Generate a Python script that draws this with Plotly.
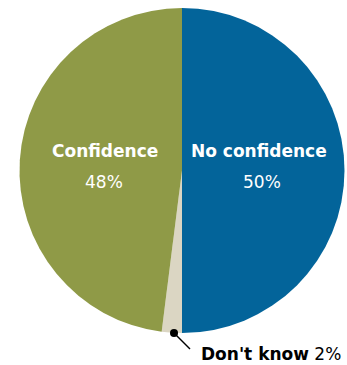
import plotly.graph_objects as go

labels = ["No confidence", "Don't know", "Confidence"]
values = [50, 2, 48]
colors = ["#03649a", "#dbd6c3", "#8f9a47"]

W, H = 347, 365
def px(x): return x / W
def py(y): return 1 - y / H

fig = go.Figure(go.Pie(
    labels=labels, values=values, sort=False, direction="clockwise", rotation=0,
    marker=dict(colors=colors, line=dict(width=0)),
    textinfo="none", hoverinfo="label+percent", showlegend=False,
    domain=dict(x=[px(19), px(345)], y=[py(333), py(8)]),
))

font = "DejaVu Sans, sans-serif"
fs = 17
ann = []
def add(x, y, text, color="white", xanchor="center"):
    ann.append(dict(x=px(x), y=py(y), text=text, showarrow=False, xanchor=xanchor, yanchor="middle",
                    font=dict(family=font, size=fs, color=color), xref="paper", yref="paper"))

add(259, 151, f"<b>{labels[0]}</b>")
add(262, 182, f"{values[0]}%")
add(105, 151, f"<b>{labels[2]}</b>")
add(104, 182, f"{values[2]}%")
add(199, 354, f"<b>{labels[1]}</b> {values[1]}%", color="black", xanchor="left")

shapes = [
    dict(type="line", xref="paper", yref="paper", x0=px(174), y0=py(333), x1=px(190), y1=py(349),
         line=dict(color="black", width=1.5)),
    dict(type="circle", xref="paper", yref="paper", x0=px(170), y0=py(329), x1=px(178), y1=py(337),
         fillcolor="black", line=dict(color="black", width=0)),
]

fig.update_layout(width=W, height=H, margin=dict(l=0, r=0, t=0, b=0),
                  paper_bgcolor="white", plot_bgcolor="white",
                  annotations=ann, shapes=shapes)
fig.write_html("out.html")
